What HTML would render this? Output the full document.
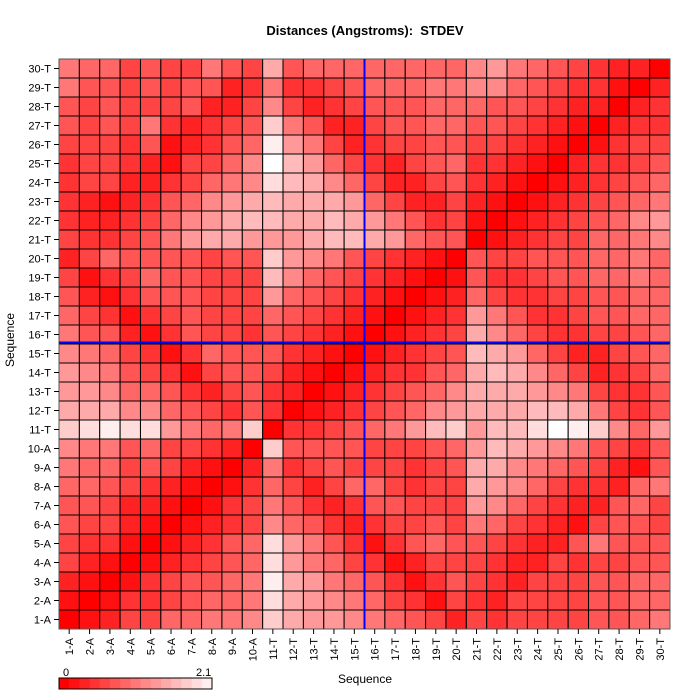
<!DOCTYPE html>
<html><head><meta charset="utf-8"><style>
html,body{margin:0;padding:0;background:#fff;}
svg{display:block;font-family:"Liberation Sans",Arial,sans-serif;}
</style></head><body>
<svg id="s" width="700" height="700" xmlns="http://www.w3.org/2000/svg"></svg>
<script>
const L=["7664544754a5666","755454552373345","545444522484234","5454732345c7522","4443512356e9742","3443214468fb964","3442234678dba86","321235689abaaa9","32234689abbaaba","4334579aa999abb","2465555455c9875","4134655444b8654","521355544496543","643134544465432","755213544354321",
"876431365553210","987543145542101","998665324532012","aaa886543530123","cdedd9767c03345","8775644320c5555","766454210273454","665432101364246","554221013475323","544210123486532","4331012356d9753","4210123456d9764","2101345567ea976","1013345667da987","0124466778ca998"];
const R=["666668976543220","666778865433102","555666554322023","455665543210233","344554432101344","324563321023345","422453210123456","642242101234567","975341012345689","a96550123446678","432105445556676","321015334556676","210126433445566","101239753345566","01234a864334456",
"12345ba96422456","23356aba8642346","34568aaa9874335","45689aaabba7435","679bc9bbdfec869","444569ba9875435","44345aa87654215","64344a986433267","554449864322564","344547643214554","135655432257555","312444322434455","531354324445566","643143244445566","765424344445567"];
const rows=L.map((l,i)=>l+R[i]);
const s=document.getElementById('s');const NS='http://www.w3.org/2000/svg';
function el(t,a,txt){const e=document.createElementNS(NS,t);for(const k in a)e.setAttribute(k,a[k]);if(txt!==undefined)e.textContent=txt;s.appendChild(e);return e;}
const x0=59,y0=59,W=611,H=570,cw=W/30,ch=H/30;
function col(d){const g=Math.round(parseInt(d,16)*17);return 'rgb(255,'+g+','+g+')';}
for(let r=0;r<30;r++){const row=rows[r];for(let c=0;c<30;c++){const d=row[c]||'5';
el('rect',{x:x0+c*cw,y:y0+r*ch,width:cw,height:ch,fill:col(d),stroke:'#000','stroke-width':1});}}
el('rect',{x:x0,y:y0,width:W,height:H,fill:'none',stroke:'#555','stroke-width':1});
el('line',{x1:x0+15*cw,y1:y0,x2:x0+15*cw,y2:y0+H,stroke:'#0000ff','stroke-width':2});
el('line',{x1:x0,y1:y0+15*ch-1.5,x2:x0+W,y2:y0+15*ch-1.5,stroke:'#0000ff','stroke-width':2});
const labs=[];for(let i=1;i<=30;i++)labs.push(i+(i<=10?'-A':'-T'));
for(let i=0;i<30;i++){
 const cx=x0+(i+0.5)*cw; el('line',{x1:cx,y1:y0+H,x2:cx,y2:y0+H+5,stroke:'#000'});
 el('text',{x:0,y:0,transform:'translate('+(cx+4)+','+(y0+H+9)+') rotate(-90)','text-anchor':'end','font-size':11},labs[i]);
 const cy=y0+H-(i+0.5)*ch; el('line',{x1:x0-5,y1:cy,x2:x0,y2:cy,stroke:'#000'});
 el('text',{x:x0-8,y:cy+4,'text-anchor':'end','font-size':11},labs[i]);
}
el('text',{x:365,y:35,'text-anchor':'middle','font-size':13,'font-weight':'bold','xml:space':'preserve',style:'white-space:pre'},'Distances (Angstroms):  STDEV');
el('text',{x:365,y:683,'text-anchor':'middle','font-size':12},'Sequence');
el('text',{x:0,y:0,transform:'translate(14,340) rotate(-90)','text-anchor':'middle','font-size':12},'Sequence');
const n=15,bw=153/n;
for(let i=0;i<n;i++)el('rect',{x:59+i*bw,y:678,width:bw+0.5,height:11,fill:col((i).toString(16))});
el('rect',{x:59,y:678,width:153,height:11,fill:'none',stroke:'#000'});
el('text',{x:63,y:676,'font-size':11},'0');
el('text',{x:196,y:676,'font-size':11},'2.1');
</script>
</body></html>
